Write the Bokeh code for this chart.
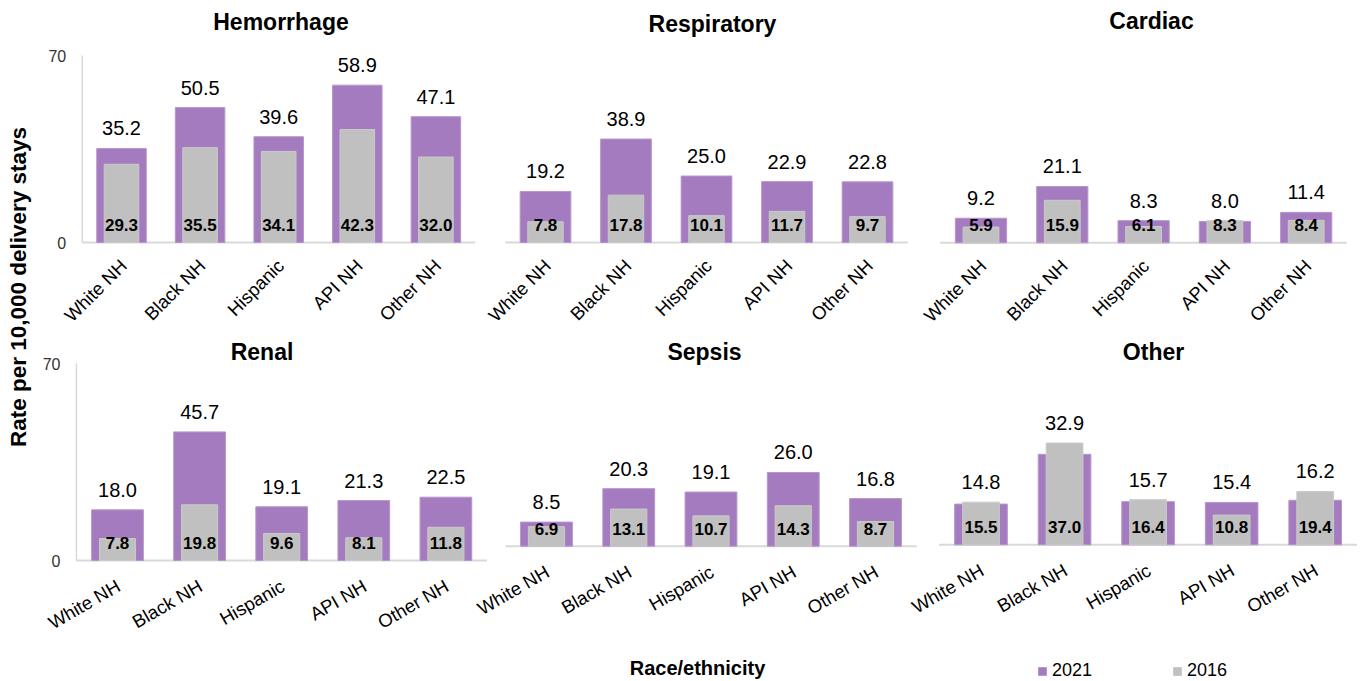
import math
from bokeh.plotting import figure
from bokeh.models import Range1d, ColumnDataSource, Legend, LegendItem
from bokeh.embed import file_html
from bokeh.resources import INLINE
from bokeh.core.properties import value

# ---------------- data ----------------
categories = ["White NH", "Black NH", "Hispanic", "API NH", "Other NH"]
panels = ["Hemorrhage", "Respiratory", "Cardiac", "Renal", "Sepsis", "Other"]
y_ticks = [0, 70]
series_names = ["2021", "2016"]

hemorrhage_2021 = [35.2, 50.5, 39.6, 58.9, 47.1]
hemorrhage_2016 = [29.3, 35.5, 34.1, 42.3, 32.0]
respiratory_2021 = [19.2, 38.9, 25.0, 22.9, 22.8]
respiratory_2016 = [7.8, 17.8, 10.1, 11.7, 9.7]
cardiac_2021 = [9.2, 21.1, 8.3, 8.0, 11.4]
cardiac_2016 = [5.9, 15.9, 6.1, 8.3, 8.4]
renal_2021 = [18.0, 45.7, 19.1, 21.3, 22.5]
renal_2016 = [7.8, 19.8, 9.6, 8.1, 11.8]
sepsis_2021 = [8.5, 20.3, 19.1, 26.0, 16.8]
sepsis_2016 = [6.9, 13.1, 10.7, 14.3, 8.7]
other_2021 = [14.8, 32.9, 15.7, 15.4, 16.2]
other_2016 = [15.5, 37.0, 16.4, 10.8, 19.4]

values_2021 = {"Hemorrhage": hemorrhage_2021, "Respiratory": respiratory_2021, "Cardiac": cardiac_2021,
               "Renal": renal_2021, "Sepsis": sepsis_2021, "Other": other_2021}
values_2016 = {"Hemorrhage": hemorrhage_2016, "Respiratory": respiratory_2016, "Cardiac": cardiac_2016,
               "Renal": renal_2016, "Sepsis": sepsis_2016, "Other": other_2016}

y_title = "Rate per 10,000 delivery stays"
x_title = "Race/ethnicity"

# ---------------- style / layout ----------------
W, H = 1362, 681
PURPLE = "#A57BC0"
GRAY = "#C0C0C0"
AXIS = "#D9D9D9"
FONT = "Liberation Sans"

# per panel (page pixels): first category centre, category spacing, baseline,
# pixels per unit, title centre, label angle and offsets, whether it carries the y axis
GEOM = {
    "Hemorrhage":  dict(cx0=121.0, dx=78.6, base=242.0, ppu=2.671, tx=280.5, ty=21, ang=math.pi / 4, lx=2, ly=20, yaxis=True),
    "Respiratory": dict(cx0=545.0, dx=80.5, base=242.0, ppu=2.66, tx=712.0, ty=23, ang=math.pi / 4, lx=2, ly=20, yaxis=False),
    "Cardiac":     dict(cx0=980.5, dx=81.3, base=242.3, ppu=2.67, tx=1151.0, ty=20, ang=math.pi / 4, lx=2, ly=20, yaxis=False),
    "Renal":       dict(cx0=117.0, dx=82.1, base=560.0, ppu=2.814, tx=261.5, ty=351, ang=math.pi / 6, lx=1, ly=24, yaxis=True),
    "Sepsis":      dict(cx0=546.0, dx=82.25, base=545.7, ppu=2.835, tx=704.0, ty=351, ang=math.pi / 6, lx=1, ly=24, yaxis=False),
    "Other":       dict(cx0=980.5, dx=83.55, base=544.3, ppu=2.75, tx=1153.0, ty=351, ang=math.pi / 6, lx=1, ly=24, yaxis=False),
}

p = figure(width=W, height=H, x_range=Range1d(0, W), y_range=Range1d(0, H),
           output_backend="svg", toolbar_location=None, x_axis_location=None,
           y_axis_location=None, min_border=0, title=None, outline_line_color=None,
           background_fill_color="white", border_fill_color="white")
p.grid.visible = False

xr, yr = {}, {}
for pn in panels:
    g = GEOM[pn]
    xr[pn] = Range1d(-g["cx0"] / g["dx"], (W - g["cx0"]) / g["dx"])
    yr[pn] = Range1d(-(H - g["base"]) / g["ppu"], g["base"] / g["ppu"])
p.extra_x_ranges = xr
p.extra_y_ranges = yr

legend_renderers = None
for pn in panels:
    g = GEOM[pn]
    a = values_2021[pn]
    b = values_2016[pn]
    idx = list(range(len(categories)))
    src = ColumnDataSource(dict(
        x=idx, v21=a, v16=b,
        vmax=[max(u, v) for u, v in zip(a, b)],
        t21=["%.1f" % v for v in a],
        t16=["%.1f" % v for v in b],
        cat=categories,
    ))
    kw = dict(x_range_name=pn, y_range_name=pn)

    # baseline of the panel
    p.segment(x0=[idx[0] - 0.5], x1=[idx[-1] + 0.5], y0=[0], y1=[0],
              line_color=AXIS, line_width=2, **kw)
    if g["yaxis"]:
        p.segment(x0=[idx[0] - 0.5], x1=[idx[0] - 0.5], y0=[y_ticks[0]], y1=[y_ticks[-1]],
                  line_color=AXIS, line_width=1.5, **kw)
        p.text(x=[idx[0] - 0.5] * len(y_ticks), y=y_ticks, text=[str(t) for t in y_ticks],
               text_align="right", text_baseline="middle", x_offset=-16,
               text_font=value(FONT), text_font_size="16px", text_color="#333333", **kw)

    r21 = p.vbar(x="x", top="v21", bottom=0, width=0.63, source=src,
                 fill_color=PURPLE, line_color="#B796CC", line_width=1, **kw)
    r16 = p.vbar(x="x", top="v16", bottom=0, width=0.44, source=src,
                 fill_color=GRAY, line_color="#CACACA", line_width=1, **kw)
    if legend_renderers is None:
        legend_renderers = (r21, r16)

    # 2021 labels above the bars
    p.text(x="x", y="vmax", text="t21", source=src, text_align="center",
           text_baseline="middle", y_offset=-20, text_font=value(FONT),
           text_font_size="20px", text_color="#000000", **kw)
    # 2016 labels inside the grey bars
    p.text(x="x", y=0, text="t16", source=src, text_align="center",
           text_baseline="middle", y_offset=-17.5, text_font=value(FONT),
           text_font_size="17px", text_font_style="bold", text_color="#000000", **kw)
    # category labels
    p.text(x="x", y=0, text="cat", source=src, angle=g["ang"],
           text_align="right", text_baseline="middle", x_offset=g["lx"], y_offset=g["ly"],
           text_font=value(FONT), text_font_size="18.5px", text_color="#000000", **kw)
    # panel title
    p.text(x=[(g["tx"] - g["cx0"]) / g["dx"]], y=[(g["base"] - g["ty"]) / g["ppu"]], text=[pn],
           text_align="center", text_baseline="middle",
           text_font=value(FONT), text_font_size="23px", text_font_style="bold",
           text_color="#000000", **kw)

# axis titles (page coordinates of the default ranges)
p.text(x=[18], y=[H - 286.5], text=[y_title], angle=math.pi / 2, text_align="center",
       text_baseline="middle", text_font=value(FONT), text_font_size="22.5px",
       text_font_style="bold", text_color="#000000")
p.text(x=[697], y=[H - 667], text=[x_title], text_align="center", text_baseline="middle",
       text_font=value(FONT), text_font_size="20px", text_font_style="bold",
       text_color="#000000")

legend = Legend(items=[LegendItem(label=series_names[0], renderers=[legend_renderers[0]]),
                       LegendItem(label=series_names[1], renderers=[legend_renderers[1]])],
                orientation="horizontal", location=(1037, 0),
                glyph_width=10, glyph_height=10, label_standoff=5, spacing=80,
                padding=0, margin=0, border_line_color=None, background_fill_alpha=0,
                label_text_font=FONT, label_text_font_size="18px", label_text_color="#000000")
p.add_layout(legend)

open("out.html", "w").write(file_html(p, INLINE))
